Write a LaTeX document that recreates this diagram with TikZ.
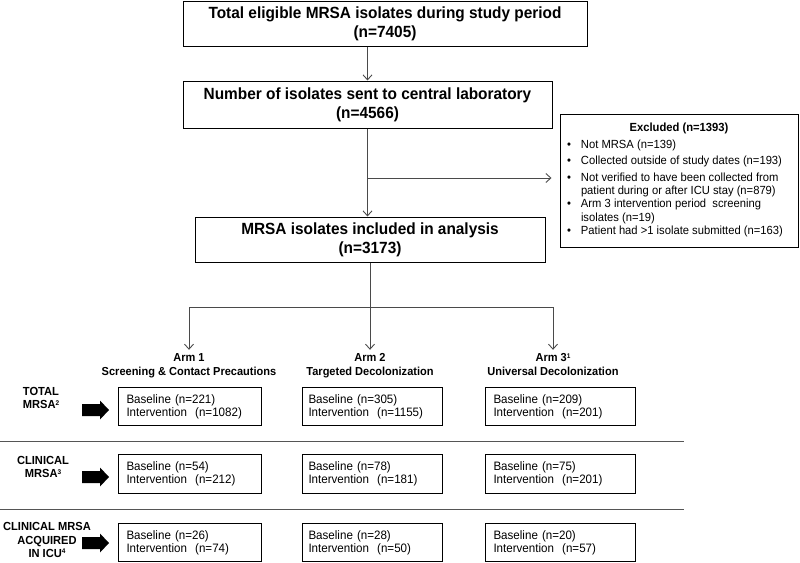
\documentclass[tikz,border=0pt]{standalone}
\usepackage{fontspec}
\setmainfont{Liberation Sans}[FakeStretch=0.95]
\usepackage{array}
\usetikzlibrary{arrows.meta}
\definecolor{conncol}{HTML}{4A4A4A}
\definecolor{sepcol}{HTML}{555555}
\newcommand{\blkarrow}[2]{%
  \fill[black,shift={(#1,#2)}] (0,-6) -- (18,-6) -- (18,-9.5) -- (27,0) -- (18,9.5) -- (18,6) -- (0,6) -- cycle;}
\newcommand{\supnum}[1]{\smash{\raisebox{3.4pt}{\fontsize{6.8}{6.8}\selectfont #1}}}
\begin{document}
\begin{tikzpicture}[x=1pt,y=-1pt,
  titlebox/.style={draw, line width=1pt, align=center, inner sep=0pt,
    font=\fontsize{16.2}{19}\selectfont\bfseries},
  exclbox/.style={draw, line width=1pt, inner sep=0pt, minimum width=238, minimum height=133,
    font=\fontsize{11.8}{13.3}\selectfont},
  armlabel/.style={align=center, inner sep=0pt, font=\fontsize{11.6}{14}\selectfont\bfseries},
  rowlabel/.style={align=center, inner sep=0pt, font=\fontsize{11.7}{13.3}\selectfont\bfseries},
  rowbox/.style={draw, line width=1pt, align=left, anchor=north west, inner ysep=0pt,
    font=\fontsize{12.2}{13.3}\selectfont},
  colA/.style={rowbox, inner xsep=8pt, text width=127pt},
  colB/.style={rowbox, inner xsep=6pt, text width=128pt},
  colC/.style={rowbox, inner xsep=8pt, text width=134pt},
  conn/.style={draw=conncol, line width=0.9pt, -{Straight Barb[length=5pt,width=9pt]}},
  sepline/.style={draw=sepcol, line width=0.9pt}]
\useasboundingbox (0,0) rectangle (800,562);

% top boxes
\node[titlebox, minimum width=404, minimum height=45] (b1) at (385,23.5)
  {Total eligible MRSA isolates during study period\\(n=7405)};
\node[titlebox, minimum width=369, minimum height=47] (b2) at (367.5,104.5)
  {Number of isolates sent to central laboratory\\(n=4566)};
\node[titlebox, minimum width=350, minimum height=45] (b3) at (370,239.5)
  {MRSA isolates included in analysis\\(n=3173)};

% excluded box
\node[exclbox] (excl) at (679,180.5) {%
  \begin{tabular}{@{\hspace{2pt}}p{14pt}@{}>{\raggedright\arraybackslash}p{212pt}@{}}
  \multicolumn{2}{c}{\textbf{Excluded (n=1393)}}\\[3pt]
  \textbullet & Not MRSA (n=139)\\[3.3pt]
  \textbullet & Collected outside of study dates (n=193)\\[3.3pt]
  \textbullet & Not verified to have been collected from\newline patient during or after ICU stay (n=879)\\[3.3pt]
  \textbullet & Arm 3 intervention period\ \ screening\newline isolates (n=19)\\[3.3pt]
  \textbullet & Patient had >1 isolate submitted (n=163)
  \end{tabular}};

% arm labels
\node[armlabel] (arm1) at (189,366) {\strut Arm 1\\Screening \& Contact Precautions\strut};
\node[armlabel] (arm2) at (370,366) {\strut Arm 2\\Targeted Decolonization\strut};
\node[armlabel] (arm3) at (553,366) {\strut Arm 3\supnum{1}\\Universal Decolonization\strut};

% connectors
\draw[conn] (b1.south -| b2.north) -- (b2.north);
\draw[conn] (b2.south) -- (b2.south |- b3.north);
\coordinate (split) at (b2.south |- 0,178);
\draw[conn, shorten >=8pt] (split) -- (split -| excl.west);
\coordinate (hub) at (b3.south |- 0,307);
\draw[conn, shorten >=2pt] (b3.south) -- (arm2.north);
\draw[conn, shorten >=2pt] (hub) -| (arm1.north);
\draw[conn, shorten >=2pt] (hub) -| (arm3.north);

% row labels
\node[rowlabel] (lab1) at (41,398) {TOTAL\\MRSA\supnum{2}};
\node[rowlabel] (lab2) at (43,467) {CLINICAL\\MRSA\supnum{3}};
\node[rowlabel] (lab3) at (47,540) {CLINICAL MRSA\\ACQUIRED\\IN ICU\supnum{4}};

% block arrows
\blkarrow{82}{410}
\blkarrow{82}{477}
\blkarrow{82}{543}

% row boxes
\node[colA, minimum height=38] (r1c1) at (118,387) {Baseline (n=221)\\Intervention\ \ (n=1082)};
\node[colB, minimum height=38] (r1c2) at (302,387) {Baseline (n=305)\\Intervention\ \ (n=1155)};
\node[colC, minimum height=38] (r1c3) at (485,387) {Baseline (n=209)\\Intervention\ \ (n=201)};

\node[colA, minimum height=39] (r2c1) at (118,454) {Baseline (n=54)\\Intervention\ \ (n=212)};
\node[colB, minimum height=39] (r2c2) at (302,454) {Baseline (n=78)\\Intervention\ \ (n=181)};
\node[colC, minimum height=39] (r2c3) at (485,454) {Baseline (n=75)\\Intervention\ \ (n=201)};

\node[colA, minimum height=38] (r3c1) at (118,523) {Baseline (n=26)\\Intervention\ \ (n=74)};
\node[colB, minimum height=38] (r3c2) at (302,523) {Baseline (n=28)\\Intervention\ \ (n=50)};
\node[colC, minimum height=38] (r3c3) at (485,523) {Baseline (n=20)\\Intervention\ \ (n=57)};

% separators
\coordinate (s1a) at (0,441); \coordinate (s1b) at (684,441);
\coordinate (s2a) at (0,509); \coordinate (s2b) at (684,509);
\draw[sepline] (s1a) -- (s1b);
\draw[sepline] (s2a) -- (s2b);
\end{tikzpicture}
\end{document}
